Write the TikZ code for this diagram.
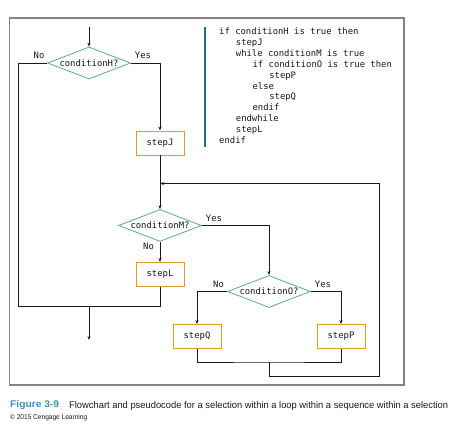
\documentclass[tikz,border=0pt]{standalone}
\usepackage{fontspec}
\setmainfont{Liberation Sans}
\newfontfamily\codefont{DejaVu Sans Mono}
\newfontfamily\capfont{Liberation Sans}
\usetikzlibrary{shapes.geometric,arrows.meta,calc}
\definecolor{framegray}{HTML}{8C817C}
\definecolor{diateal}{HTML}{5BA6A2}
\definecolor{boxorange}{HTML}{E09A2A}
\definecolor{barblue}{HTML}{1E6E91}
\definecolor{figblue}{HTML}{3D8EB9}
\definecolor{ink}{HTML}{1A1A1A}
\tikzset{
  every node/.style={inner sep=0pt},
  code/.style={font=\codefont\fontsize{8.9}{10}\selectfont, text=ink},
  decision/.style={diamond, draw=diateal, line width=0.8pt, aspect=2.6,
     minimum width=83pt, minimum height=32pt, code},
  stepbox/.style={rectangle, draw=boxorange, line width=0.9pt,
     minimum width=48pt, minimum height=24pt, code},
  lbl/.style={code},
  conn/.style={draw=ink, line width=0.8pt},
  arr/.style={conn, -{Stealth[length=4pt,width=3pt]}},
  pline/.style={code, anchor=west, text height=7pt, text depth=2pt},
}
\begin{document}
\begin{tikzpicture}[x=1pt,y=-1pt]
\useasboundingbox (0,0) rectangle (464,431);
\fill[white] (0,0) rectangle (464,431);
% frame
\draw[framegray, line width=1.3pt] (9.5,18) rectangle (404,385);
% nodes
\node[decision] (H) at (89,63) {conditionH?};
\node[stepbox] (J) at (160,143) {stepJ};
\node[decision] (M) at (160,225.5) {conditionM?};
\node[stepbox] (L) at (160,274.5) {stepL};
\node[decision] (O) at (269,291.5) {conditionO?};
\node[stepbox] (Q) at (197,336.5) {stepQ};
\node[stepbox] (P) at (341,336.5) {stepP};
% coordinates
\coordinate (start) at (89,27);
\coordinate (leftbot) at (18,306);
\coordinate (outjoin) at (89,306);
\coordinate (outend) at (89,340);
\coordinate (qpjoin) at (269,362);
\coordinate (loopbot) at (269,376);
\coordinate (loopright) at (379,376);
\coordinate (looptop) at (379,183.5);
\coordinate (loopin) at (160,183.5);
% connectors
\draw[arr] (start) -- (H.north);
\draw[arr] (H.east) -| (J.north);
\draw[arr] (J.south) -- (M.north);
\draw[arr] (M.south) -- (L.north);
\draw[arr] (M.east) -| (O.north);
\draw[arr] (O.west) -| (Q.north);
\draw[arr] (O.east) -| (P.north);
\draw[conn] (H.west) -| (leftbot) -| (L.south);
\draw[arr] (outjoin) -- (outend);
\draw[conn] (Q.south) |- (qpjoin) -| (P.south);
\draw[arr] (qpjoin) -- (loopbot) -- (loopright) -- (looptop) -- (loopin);
% labels
\node[lbl] (hno) at (39,55.5) {No};
\node[lbl] (hyes) at (143,55.5) {Yes};
\node[lbl] (myes) at (214,218.5) {Yes};
\node[lbl] (mno) at (148.5,246.5) {No};
\node[lbl] (ono) at (218.5,284) {No};
\node[lbl] (oyes) at (323,284) {Yes};
% pseudocode
\draw[barblue, line width=2pt] (205,27) -- (205,147);
\foreach \t/\lv/\yy [count=\i] in {
  {if conditionH is true then}/0/32,
  {stepJ}/1/42.9,
  {while conditionM is true}/1/53.8,
  {if conditionO is true then}/2/64.7,
  {stepP}/3/75.6,
  {else}/2/86.5,
  {stepQ}/3/97.4,
  {endif}/2/108.3,
  {endwhile}/1/119.2,
  {stepL}/1/130.1,
  {endif}/0/141}
  \node[pline] (p\i) at (219+16.7*\lv,\yy) {\t};
% caption
\node[anchor=west, text=figblue] (fig) at (10,405.5)
  {\resizebox{49pt}{7pt}{\capfont\bfseries Figure 3-9}};
\node[anchor=west, text=ink] (cap) at (69,405.5)
  {\resizebox{379pt}{7pt}{\capfont Flowchart and pseudocode for a selection within a loop within a sequence within a selection}};
\node[anchor=west, text=ink] (copy) at (10,418)
  {\resizebox{77pt}{5pt}{\capfont \textcopyright{} 2015 Cengage Learning}};
\end{tikzpicture}
\end{document}
